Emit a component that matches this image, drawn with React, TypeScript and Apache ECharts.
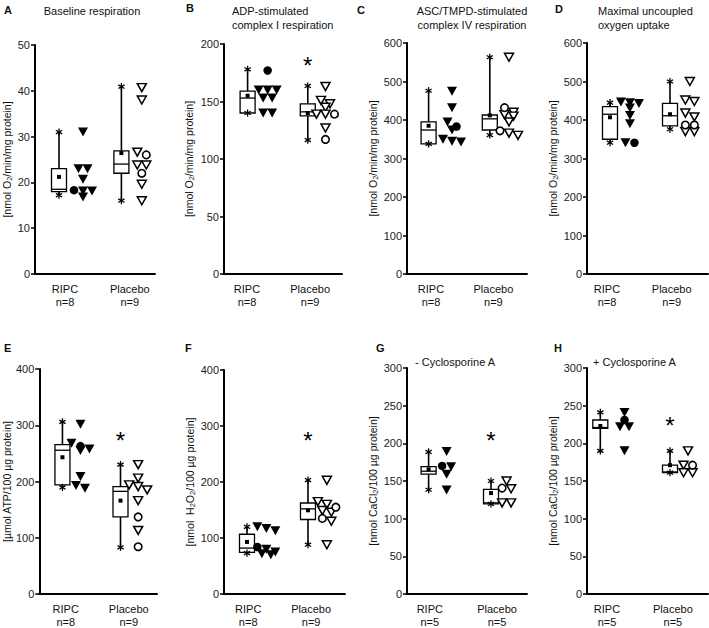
import React, { useEffect, useRef } from 'react';
import * as echarts from 'echarts';

const FONT = '"Liberation Sans", Arial, Helvetica, sans-serif';

// ---------- data (stats = [min, q1, median, q3, max, mean]) ----------
const groupNames = ['RIPC', 'Placebo'];
const nTopRow = [8, 9];
const nBottomLeft = [8, 9];
const nBottomRight = [5, 5];

// A – Baseline respiration
const aRipcStats = [17.2, 18, 18.5, 23, 31, 21.2];
const aPlaceboStats = [16, 22, 24, 26.9, 40.9, 26.4];
const aRipcTriangles = [31, 23, 23, 20.7, 18.1, 18.1, 16.8];
const aRipcCircles = [18.3];
const aPlaceboTriangles = [40.7, 38, 26.6, 23.8, 23.8, 19.6, 16];
const aPlaceboCircles = [26, 22];

// B – ADP-stimulated complex I respiration
const bRipcStats = [140, 140, 153, 159, 178, 155];
const bPlaceboStats = [116.5, 137.5, 141, 148, 163.5, 140];
const bRipcTriangles = [160, 160, 160, 153, 153, 140, 140];
const bRipcCircles = [177];
const bPlaceboTriangles = [163, 151, 148, 145, 139, 139, 127];
const bPlaceboCircles = [139, 117];
const bSignificance = 186;

// C – ASC/TMPD-stimulated complex IV respiration
const cRipcStats = [338, 338, 374, 395, 476, 385];
const cPlaceboStats = [361, 374, 403, 413, 563, 412];
const cRipcTriangles = [475, 432, 395, 374, 350, 345, 343];
const cRipcCircles = [383];
const cPlaceboTriangles = [563, 420, 414, 410, 395, 366, 360];
const cPlaceboCircles = [432, 372];

// D – Maximal uncoupled oxygen uptake
const dRipcStats = [341, 350, 415, 435, 445, 407];
const dPlaceboStats = [376, 385, 411, 443, 500, 415];
const dRipcTriangles = [447, 445, 443, 431, 412, 390, 341];
const dRipcCircles = [341];
const dPlaceboTriangles = [500, 452, 448, 418, 408, 370, 370];
const dPlaceboCircles = [387, 387];

// E – ATP
const eRipcStats = [189.5, 194, 255.6, 265.5, 306, 243];
const ePlaceboStats = [83, 137, 182.5, 191, 230, 166];
const eRipcTriangles = [302, 268, 258, 255, 209, 193, 188];
const eRipcCircles = [263];
const ePlaceboTriangles = [230, 206, 194, 191, 185, 166, 113];
const ePlaceboCircles = [137, 84];
const eSignificance = 282;

// F – H2O2
const fRipcStats = [73, 74.5, 82, 106.7, 120, 93];
const fPlaceboStats = [88, 133, 152, 162.5, 203.5, 149.5];
const fRipcTriangles = [120, 117, 113, 80, 75, 72, 70];
const fRipcCircles = [84];
const fPlaceboTriangles = [203, 165, 160, 149, 146, 130, 88];
const fPlaceboCircles = [155, 135];
const fSignificance = 282.7;

// G – CaCl2, - Cyclosporine A
const gRipcStats = [138.4, 159, 163, 169, 188.6, 165.5];
const gPlaceboStats = [119.6, 119.6, 121, 139, 150, 134];
const gRipcTriangles = [189, 169, 159, 138];
const gRipcCircles = [170];
const gPlaceboTriangles = [150, 139.7, 121, 121];
const gPlaceboCircles = [140.6];
const gSignificance = 210.5;

// H – CaCl2, + Cyclosporine A
const hRipcStats = [190, 220, 221, 231, 241, 223];
const hPlaceboStats = [161, 161, 162, 171, 190, 171];
const hRipcTriangles = [241, 222, 222, 190];
const hRipcCircles = [231];
const hPlaceboTriangles = [190, 171, 161, 161];
const hPlaceboCircles = [171];
const hSignificance = 230;

const yMaxes = [50, 200, 600, 600, 400, 400, 300, 300];
const ySteps = [10, 50, 100, 100, 100, 100, 50, 50];

// ---------- layout ----------
const GRIDS = [
  { left: 34, top: 45, width: 121, height: 229 },
  { left: 224, top: 44, width: 118, height: 230 },
  { left: 407, top: 43, width: 120, height: 231 },
  { left: 587, top: 43, width: 121, height: 231 },
  { left: 35, top: 369, width: 122, height: 228 },
  { left: 224, top: 370, width: 121, height: 227 },
  { left: 407, top: 368, width: 120, height: 229 },
  { left: 587, top: 368, width: 121, height: 229 },
];
// percent positions along x axis: ripcBox, ripcPts, placBox, placPts, ripcLabel, placLabel
const XPOS = [
  [20, 40, 72, 89, 25, 79],
  [20, 37, 71, 86, 19.5, 73],
  [18, 37.5, 69, 85, 20, 72],
  [19, 35.5, 68.6, 85, 16.5, 70],
  [19.7, 35, 69, 84, 22.5, 76],
  [19, 35, 69.4, 85, 20, 72],
  [18, 33, 70, 83, 19, 75],
  [11, 31, 68.6, 83.5, 16.5, 71],
];
const NAME_GAPS = [22, 29, 25, 25, 25, 22, 27, 25];

const O2 = '[nmol O{s|2}/min/mg protein]';
const Y_NAMES = [O2, O2, O2, O2, '[µmol ATP/100 µg protein]', '[nmol  H{s|2}O{s|2}/100 µg protein]',
  '[nmol CaCl{s|2}/100 µg protein]', '[nmol CaCl{s|2}/100 µg protein]'];

const PANELS = [
  { r: aRipcStats, p: aPlaceboStats, rt: aRipcTriangles, rc: aRipcCircles, pt: aPlaceboTriangles, pc: aPlaceboCircles, sig: null, n: nTopRow },
  { r: bRipcStats, p: bPlaceboStats, rt: bRipcTriangles, rc: bRipcCircles, pt: bPlaceboTriangles, pc: bPlaceboCircles, sig: bSignificance, n: nTopRow },
  { r: cRipcStats, p: cPlaceboStats, rt: cRipcTriangles, rc: cRipcCircles, pt: cPlaceboTriangles, pc: cPlaceboCircles, sig: null, n: nTopRow },
  { r: dRipcStats, p: dPlaceboStats, rt: dRipcTriangles, rc: dRipcCircles, pt: dPlaceboTriangles, pc: dPlaceboCircles, sig: null, n: nTopRow },
  { r: eRipcStats, p: ePlaceboStats, rt: eRipcTriangles, rc: eRipcCircles, pt: ePlaceboTriangles, pc: ePlaceboCircles, sig: eSignificance, n: nBottomLeft },
  { r: fRipcStats, p: fPlaceboStats, rt: fRipcTriangles, rc: fRipcCircles, pt: fPlaceboTriangles, pc: fPlaceboCircles, sig: fSignificance, n: nBottomLeft },
  { r: gRipcStats, p: gPlaceboStats, rt: gRipcTriangles, rc: gRipcCircles, pt: gPlaceboTriangles, pc: gPlaceboCircles, sig: gSignificance, n: nBottomRight },
  { r: hRipcStats, p: hPlaceboStats, rt: hRipcTriangles, rc: hRipcCircles, pt: hPlaceboTriangles, pc: hPlaceboCircles, sig: hSignificance, n: nBottomRight },
];

const TRI = 'path://M0,0L10,0L5,9Z';

type Pt = { v: number; c: boolean; dx: number };
function spread(tri: number[], circ: number[], pxPerUnit: number): Pt[] {
  const pts = [...tri.map((v) => ({ v, c: false, dx: 0 })), ...circ.map((v) => ({ v, c: true, dx: 0 }))]
    .sort((a, b) => b.v - a.v);
  const clusters: Pt[][] = [];
  for (const p of pts) {
    const last = clusters[clusters.length - 1];
    if (last && (last[0].v - p.v) * pxPerUnit < 6) last.push(p);
    else clusters.push([p]);
  }
  const out: Pt[] = [];
  clusters.forEach((cl) => cl.forEach((p, i) => out.push({ ...p, dx: (i - (cl.length - 1) / 2) * 9 })));
  return out;
}

function asterisk(cx: number, cy: number, r: number, w: number) {
  const lines = [];
  for (let k = 0; k < 3; k++) {
    const a = Math.PI / 2 + (k * Math.PI) / 3;
    lines.push({
      type: 'line',
      shape: { x1: cx - r * Math.cos(a), y1: cy - r * Math.sin(a), x2: cx + r * Math.cos(a), y2: cy + r * Math.sin(a) },
      style: { stroke: '#000', lineWidth: w },
    });
  }
  return lines;
}

function boxRender(_params: any, api: any) {
  const x = api.value(0);
  const v = [1, 2, 3, 4, 5, 6].map((i) => api.value(i));
  const [cx, yMin] = api.coord([x, v[0]]);
  const yQ1 = api.coord([x, v[1]])[1];
  const yMed = api.coord([x, v[2]])[1];
  const yQ3 = api.coord([x, v[3]])[1];
  const yMax = api.coord([x, v[4]])[1];
  const yMean = api.coord([x, v[5]])[1];
  const hw = 7.5;
  return {
    type: 'group',
    children: [
      { type: 'line', shape: { x1: cx, y1: yQ3, x2: cx, y2: yMax }, style: { stroke: '#000', lineWidth: 1.6 } },
      { type: 'line', shape: { x1: cx, y1: yQ1, x2: cx, y2: yMin }, style: { stroke: '#000', lineWidth: 1.6 } },
      { type: 'rect', shape: { x: cx - hw, y: yQ3, width: hw * 2, height: Math.max(yQ1 - yQ3, 0.5) }, style: { fill: '#fff', stroke: '#000', lineWidth: 1.3 } },
      { type: 'line', shape: { x1: cx - hw, y1: yMed, x2: cx + hw, y2: yMed }, style: { stroke: '#000', lineWidth: 1.3 } },
      { type: 'rect', shape: { x: cx - 2, y: yMean - 2, width: 4, height: 4 }, style: { fill: '#000' } },
      ...asterisk(cx, yMax, 3.6, 1.3),
      ...asterisk(cx, yMin, 3.6, 1.3),
    ],
  };
}

function sigRender(_params: any, api: any) {
  const [x, y] = api.coord([api.value(0), api.value(1)]);
  return {
    type: 'text',
    x,
    y: y + 5,
    style: { text: '*', fontSize: 24, fontFamily: FONT, fill: '#000', textAlign: 'center', textVerticalAlign: 'middle', align: 'center', verticalAlign: 'middle' },
  };
}

function buildOption() {
  const grid: any[] = [];
  const xAxis: any[] = [];
  const yAxis: any[] = [];
  const series: any[] = [];

  PANELS.forEach((pn, i) => {
    const g = GRIDS[i];
    const xp = XPOS[i];
    grid.push({ left: g.left, top: g.top, width: g.width, height: g.height, containLabel: false });
    xAxis.push({
      type: 'value', gridIndex: i, min: 0, max: 100,
      axisLine: { show: true, onZero: false, lineStyle: { color: '#000', width: 2 } },
      axisTick: { show: false },
      splitLine: { show: false },
      axisLabel: {
        customValues: [xp[4], xp[5]],
        formatter: (val: number) => (Math.abs(val - xp[4]) < 0.01 ? `${groupNames[0]}\nn=${pn.n[0]}` : `${groupNames[1]}\nn=${pn.n[1]}`),
        fontSize: 11, lineHeight: 13, margin: 8, color: '#111', fontFamily: FONT,
      },
    });
    yAxis.push({
      type: 'value', gridIndex: i, min: 0, max: yMaxes[i], interval: ySteps[i],
      axisLine: { show: true, lineStyle: { color: '#000', width: 2 } },
      axisTick: { show: true, length: 4, lineStyle: { color: '#000', width: 1.5 } },
      splitLine: { show: false },
      axisLabel: { fontSize: 11, margin: 5, color: '#222', fontFamily: FONT },
      name: Y_NAMES[i], nameLocation: 'middle', nameGap: NAME_GAPS[i],
      nameTextStyle: {
        fontSize: 10.5, color: '#111', fontFamily: FONT,
        rich: { s: { fontSize: 7.5, color: '#111', fontFamily: FONT, verticalAlign: 'bottom', padding: [5, 0, 0, 0] } },
      },
    });

    series.push({
      type: 'custom', xAxisIndex: i, yAxisIndex: i, clip: false, silent: true,
      renderItem: boxRender,
      data: [[xp[0], ...pn.r], [xp[2], ...pn.p]],
      encode: { x: 0, y: [1, 2, 3, 4, 5, 6] },
      z: 2,
    });

    const ppu = g.height / yMaxes[i];
    const rip = spread(pn.rt, pn.rc, ppu);
    const pla = spread(pn.pt, pn.pc, ppu);
    const mk = (arr: Pt[], circ: boolean, xv: number) =>
      arr.filter((p) => p.c === circ).map((p) => ({ value: [xv, p.v], symbolOffset: [p.dx, 0] }));

    series.push({
      type: 'scatter', xAxisIndex: i, yAxisIndex: i, silent: true, z: 3,
      symbol: TRI, symbolSize: [10, 9], itemStyle: { color: '#000', opacity: 1 },
      data: mk(rip, false, xp[1]),
    });
    series.push({
      type: 'scatter', xAxisIndex: i, yAxisIndex: i, silent: true, z: 3,
      symbol: 'circle', symbolSize: 8.5, itemStyle: { color: '#000', opacity: 1 },
      data: mk(rip, true, xp[1]),
    });
    series.push({
      type: 'scatter', xAxisIndex: i, yAxisIndex: i, silent: true, z: 3,
      symbol: TRI, symbolSize: [9, 8], itemStyle: { color: '#fff', borderColor: '#000', borderWidth: 1.5, opacity: 1 },
      data: mk(pla, false, xp[3]),
    });
    series.push({
      type: 'scatter', xAxisIndex: i, yAxisIndex: i, silent: true, z: 3,
      symbol: 'circle', symbolSize: 7.5, itemStyle: { color: '#fff', borderColor: '#000', borderWidth: 1.6, opacity: 1 },
      data: mk(pla, true, xp[3]),
    });
    if (pn.sig !== null) {
      series.push({
        type: 'custom', xAxisIndex: i, yAxisIndex: i, clip: false, silent: true, z: 4,
        renderItem: sigRender,
        data: [[xp[2], pn.sig]],
      });
    }
  });

  const txt = (text: string, x: number, y: number, opts: any = {}) => ({
    type: 'text', x, y, silent: true,
    style: {
      text, fontSize: 11, fontFamily: FONT, fill: '#111',
      textAlign: opts.align || 'left', textVerticalAlign: 'middle',
      fontWeight: opts.bold ? 'bold' : 'normal',
    },
  });

  const graphic = [
    txt('A', 4, 10, { bold: true }),
    txt('B', 186, 8, { bold: true }),
    txt('C', 357, 10, { bold: true }),
    txt('D', 555, 9, { bold: true }),
    txt('E', 4, 348, { bold: true }),
    txt('F', 185, 348, { bold: true }),
    txt('G', 376, 348, { bold: true }),
    txt('H', 554, 348, { bold: true }),
    txt('Baseline respiration', 92, 11, { align: 'center' }),
    txt('ADP-stimulated', 232, 11),
    txt('complex I respiration', 232, 25),
    txt('ASC/TMPD-stimulated', 472, 11, { align: 'center' }),
    txt('complex IV respiration', 472, 25, { align: 'center' }),
    txt('Maximal uncoupled', 598, 11),
    txt('oxygen uptake', 598, 25),
    txt('- Cyclosporine A', 415, 362),
    txt('+ Cyclosporine A', 593, 362),
  ];

  return {
    animation: false,
    backgroundColor: '#fff',
    grid, xAxis, yAxis, series, graphic,
  };
}

export default function App() {
  const ref = useRef<HTMLDivElement>(null);
  useEffect(() => {
    document.body.style.margin = '0';
    if (!ref.current) return;
    const chart = echarts.init(ref.current, undefined, { renderer: 'svg' });
    chart.setOption(buildOption() as any);
    return () => chart.dispose();
  }, []);
  return <div ref={ref} style={{ width: 709, height: 628 }} />;
}
